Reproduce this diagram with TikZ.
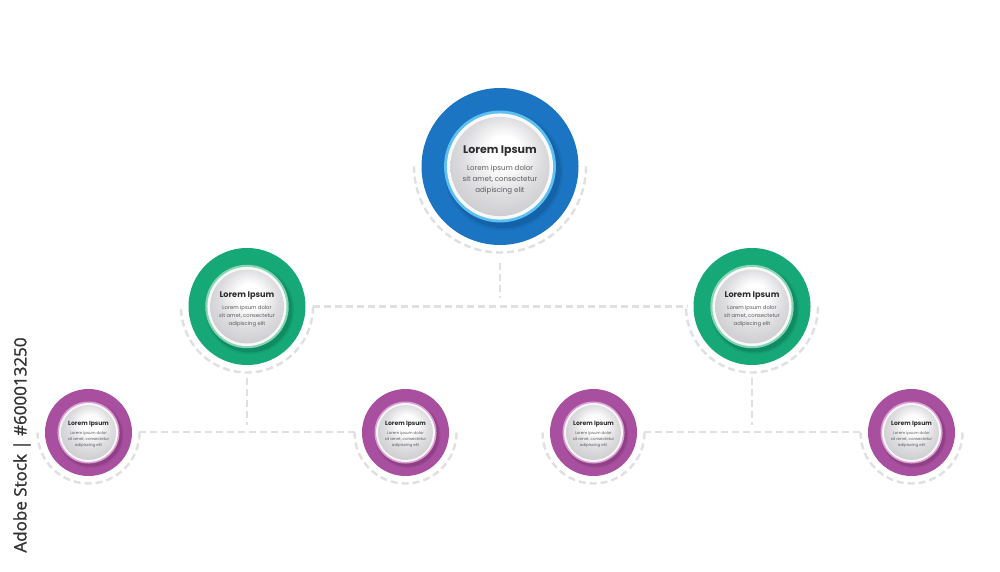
\documentclass[tikz,border=0pt]{standalone}
\usepackage{fontspec}
\setmainfont{Poppins}
\newfontfamily\wmfont[FakeBold=1.2]{Open Sans}
\usetikzlibrary{calc}
\definecolor{cblue}{HTML}{1B75C2}
\definecolor{cbluel}{HTML}{5EC0F2}
\definecolor{cblued}{HTML}{0E4F8E}
\definecolor{cgreen}{HTML}{17A878}
\definecolor{cgreenl}{HTML}{86D6B5}
\definecolor{cgreend}{HTML}{0B6F4F}
\definecolor{cpurple}{HTML}{A8509F}
\definecolor{cpurplel}{HTML}{DCA0D5}
\definecolor{cpurpled}{HTML}{74306C}
\definecolor{dashgray}{HTML}{E0E0E0}
\definecolor{txt}{HTML}{2E2E2E}
\definecolor{txtb}{HTML}{5A5A5A}
\definecolor{discedge}{HTML}{C6C6CA}
\definecolor{discmid}{HTML}{DDDDE0}
\pgfdeclareradialshading{discshade}{\pgfpoint{2bp}{9bp}}{%
  color(0bp)=(white); color(8bp)=(white); color(20bp)=(discmid); color(34bp)=(discedge); color(50bp)=(discedge)}
\tikzset{
  conn/.style={draw=dashgray, line width=2.4pt, dash pattern=on 7pt off 4pt},
  orbit/.style={draw=dashgray, line width=2.4pt, dash pattern=on 7pt off 4pt},
  disc/.style={circle, inner sep=0pt, outer sep=0pt},
}
\newcommand\orgcirc[7]{%
  \pgfmathsetmacro\oR{#4}%
  \pgfmathsetmacro\oA{#4+7.5}%
  \pgfmathsetmacro\oAx{#2+#4+7.5}%
  \pgfmathsetmacro\oSx{#2+0.045*#4}%
  \pgfmathsetmacro\oSy{#3+0.055*#4}%
  \pgfmathsetmacro\oSa{0.76*#4}%
  \pgfmathsetmacro\oSb{0.73*#4}%
  \pgfmathsetmacro\oL{0.713*#4}%
  \pgfmathsetmacro\oW{0.676*#4}%
  \pgfmathsetmacro\oG{0.632*#4}%
  \pgfmathsetmacro\oTs{0.14*#4}%
  \pgfmathsetmacro\oBs{0.09*#4}%
  \pgfmathsetmacro\oBl{0.14*#4}%
  \pgfmathsetmacro\oTy{#3-0.19*#4}%
  \pgfmathsetmacro\oBy{#3+0.165*#4}%
  \draw[orbit] (\oAx,#3) arc[start angle=0, end angle=180, radius=\oA];
  \node[disc, minimum size=2*\oR, fill=#5] (#1) at (#2,#3) {};
  \fill[#7, opacity=0.18] (\oSx,\oSy) circle[radius=\oSa];
  \fill[#7, opacity=0.35] (\oSx,\oSy) circle[radius=\oSb];
  \fill[#6] (#1.center) circle[radius=\oL];
  \fill[white!95!gray] (#1.center) circle[radius=\oW];
  \shade[shading=discshade] (#1.center) circle[radius=\oG];
  \node[font=\fontsize{\oTs}{\oTs}\selectfont\bfseries, text=txt, inner sep=0pt] (#1-t) at (#2,\oTy) {Lorem Ipsum};
  \node[font=\fontsize{\oBs}{\oBl}\selectfont, text=txtb, align=center, inner sep=0pt] (#1-b) at (#2,\oBy) {Lorem ipsum dolor\\sit amet, consectetur\\adipiscing elit};
}
\begin{document}
\begin{tikzpicture}[x=1pt,y=-1pt]
\useasboundingbox (0,0) rectangle (1000,572);
\fill[white] (0,0) rectangle (1000,572);

% hubs
\coordinate (hub1) at (500,306.5);
\coordinate (hub2) at (247,432);
\coordinate (hub3) at (752,432);

% connectors
\draw[conn] (hub1) ++(0,-44) -- ($(hub1)+(0,-9)$);
\draw[conn] (313,306.5) -- (688,306.5);
\draw[conn] (hub2) ++(0,-54) -- ($(hub2)+(0,-7)$);
\draw[conn] (139,432) -- (355,432);
\draw[conn] (hub3) ++(0,-54) -- ($(hub3)+(0,-7)$);
\draw[conn] (644,432) -- (860,432);

\orgcirc{top}{500}{166.5}{78.5}{cblue}{cbluel}{cblued}
\orgcirc{g1}{247}{306.5}{58.5}{cgreen}{cgreenl}{cgreend}
\orgcirc{g2}{752}{306.5}{58.5}{cgreen}{cgreenl}{cgreend}
\orgcirc{p1}{88.5}{432.5}{43.5}{cpurple}{cpurplel}{cpurpled}
\orgcirc{p2}{405.5}{432.5}{43.5}{cpurple}{cpurplel}{cpurpled}
\orgcirc{p3}{593.5}{432.5}{43.5}{cpurple}{cpurplel}{cpurpled}
\orgcirc{p4}{911.5}{432.5}{43.5}{cpurple}{cpurplel}{cpurpled}

\node[rotate=90, font=\wmfont\fontsize{17}{17}\selectfont, text=black!80, inner sep=0pt] (wm) at (22,445) {Adobe Stock | \#600013250};
\end{tikzpicture}
\end{document}
